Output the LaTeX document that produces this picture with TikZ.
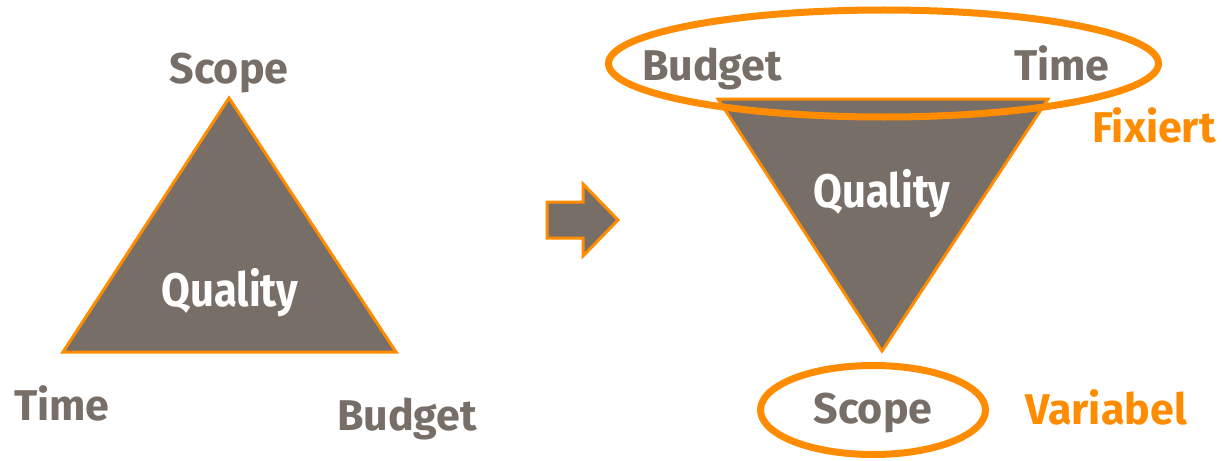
\documentclass[tikz,border=0pt]{standalone}
\usepackage{fontspec}
\setmainfont{Fira Sans}
\newfontfamily\narrowfont[FakeStretch=0.89]{Fira Sans}
\definecolor{taupe}{HTML}{776E67}
\definecolor{signal}{HTML}{FF8C00}

\begin{document}
\begin{tikzpicture}[x=1pt,y=-1pt,
        mylabel/.style={font=\fontsize{43}{50}\selectfont\bfseries,text=taupe,inner sep=0pt,anchor=base},
        myinner/.style={mylabel,text=white,font=\narrowfont\fontsize{47}{54}\selectfont\bfseries},
        mynote/.style={mylabel,text=signal},
        mytri/.style={fill=taupe,draw=signal,line width=3pt},
        myring/.style={draw=signal,line width=7pt}]

        \useasboundingbox (0,0) rectangle (1222,460);

        %left triangle
        \coordinate (LS) at (229,98);
        \coordinate (LT) at (63,352);
        \coordinate (LB) at (396,352);
        \draw[mytri] (LS) -- (LB) -- (LT) -- cycle;

        %label left
        \node[mylabel] (scope1) at (229,83) {Scope};
        \node[mylabel] (time1) at (62,420) {Time};
        \node[mylabel] (budget1) at (407,430) {Budget};
        \node[myinner] (quality1) at (230,306) {Quality};

        %arrow
        \draw[fill=taupe,draw=signal,line width=3pt] (547,202) -- (583,202) -- (583,184)
                -- (618,220) -- (583,256) -- (583,238) -- (547,238) -- cycle;

        %right triangle
        \coordinate (RB) at (718,99);
        \coordinate (RT) at (1048,99);
        \coordinate (RS) at (882,351);
        \draw[mytri] (RB) -- (RT) -- (RS) -- cycle;
        \node[myinner] (quality2) at (882,207) {Quality};

        %ellipses
        \draw[myring] (883.5,63.5) ellipse [x radius=275, y radius=53.5];
        \draw[myring] (873,410) ellipse [x radius=112.5, y radius=44.5];

        %label right
        \node[mylabel] (budget2) at (712,80) {Budget};
        \node[mylabel] (time2) at (1062,80) {Time};
        \node[mylabel] (scope2) at (873,423) {Scope};
        \node[mynote] (fix) at (1154,142) {Fixiert};
        \node[mynote] (var) at (1106,424) {Variabel};
\end{tikzpicture}
\end{document}
